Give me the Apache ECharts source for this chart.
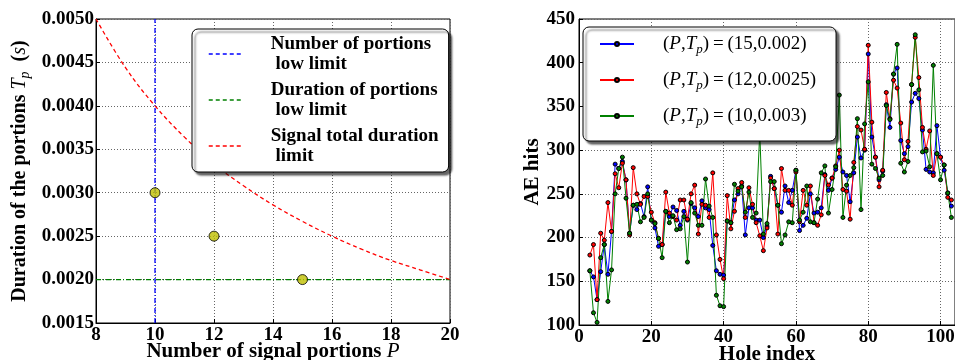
<!DOCTYPE html>
<html><head><meta charset="utf-8">
<script src="https://cdn.jsdelivr.net/npm/echarts@6/dist/echarts.min.js"></script>
<style>html,body{margin:0;padding:0;background:#fff}#c{width:955px;height:360px}</style>
</head><body><div id="c"></div>
<script>
// ---------- Left panel data ----------
const portionsP = [8, 9, 10, 11, 12, 13, 14, 15, 16, 17, 18, 19, 20];
const totalDurationLimit = [0.005, 0.00444, 0.004, 0.00364, 0.00333, 0.00308, 0.00286, 0.00267, 0.0025, 0.00235, 0.00222, 0.00211, 0.002];
const portionsLowLimit = 10;
const durationLowLimit = 0.002;
const leftXRange = [8, 20];
const leftYRange = [0.0015, 0.005];
const chosenP = [10, 12, 15];
const chosenTp = [0.003, 0.0025, 0.002];
const leftLegendNames = ['Number of portions\n low limit', 'Duration of portions\n low limit', 'Signal total duration\n limit'];

// ---------- Right panel data ----------
const holeIndex = [3,4,5,6,7,8,9,10,11,12,13,14,15,16,17,18,19,20,21,22,23,24,25,26,27,28,29,30,31,32,33,34,35,36,37,38,39,40,41,42,43,44,45,46,47,48,49,50,51,52,53,54,55,56,57,58,59,60,61,62,63,64,65,66,67,68,69,70,71,72,73,74,75,76,77,78,79,80,81,82,83,84,85,86,87,88,89,90,91,92,93,94,95,96,97,98,99,100,101,102,103];
const hitsP15 = [162,155,129,161,192,158,207,284,279,287,266,205,237,232,239,224,258,220,211,190,192,230,224,235,231,214,230,220,239,234,224,242,234,232,191,162,158,157,219,217,243,250,259,203,234,234,220,220,200,213,270,256,237,229,259,240,254,277,208,214,222,250,228,229,234,272,254,268,278,292,275,271,241,274,315,291,300,410,315,292,266,276,352,326,387,394,311,296,304,355,365,359,323,278,275,274,328,292,277,251,236];
const hitsP12 = [180,192,129,205,197,240,207,273,257,285,266,203,280,250,238,247,247,229,217,199,192,252,228,224,220,243,243,221,250,260,204,238,237,223,274,203,175,153,248,210,230,256,263,223,257,238,217,202,185,211,268,256,204,279,254,254,237,275,218,254,237,259,217,214,226,271,260,268,282,300,255,253,221,286,327,323,301,420,332,292,258,277,366,336,380,371,331,289,310,375,429,383,326,301,322,271,296,292,283,246,243];
const hitsP10 = [162,114,103,177,192,127,163,250,279,292,245,205,237,238,218,223,250,220,216,199,177,230,217,225,209,210,224,172,240,228,214,214,267,236,223,134,122,121,219,217,261,253,258,229,252,223,228,320,204,216,264,264,237,193,203,218,217,277,220,229,259,218,217,244,274,282,228,255,281,363,223,260,271,280,336,232,330,378,284,279,268,271,351,335,387,421,285,275,287,375,432,369,298,299,281,397,296,266,283,251,223];
const rightLegendNames = ['(P,Tp)=(15,0.002)', '(P,Tp)=(12,0.0025)', '(P,Tp)=(10,0.003)'];
const rightLegendValues = ['(15,0.002)', '(12,0.0025)', '(10,0.003)'];
const rightXRange = [0, 104];
const rightYRange = [100, 450];

const FONT = 'Liberation Serif';
const pair = (xs, ys) => xs.map((x, i) => [x, ys[i]]);

function axisCommon(extra) {
  return Object.assign({
    type: 'value',
    axisLine: { show: true, onZero: false, lineStyle: { color: '#000', width: 1 } },
    axisTick: { show: true, inside: true, length: 4, lineStyle: { color: '#000' } },
    splitLine: { show: true, lineStyle: { color: '#666', type: [1, 2], width: 1 } },
    axisLabel: { color: '#000', fontFamily: FONT, fontWeight: 'bold', fontSize: 19 },
    nameTextStyle: { color: '#000', fontFamily: FONT, fontWeight: 'bold', fontSize: 20 }
  }, extra);
}

const chart = echarts.init(document.getElementById('c'), null, { renderer: 'canvas' });

const option = {
  animation: false,
  backgroundColor: '#fff',
  grid: [
    { left: 96, top: 19, width: 354, height: 304, show: true, borderColor: '#000', borderWidth: 1, backgroundColor: 'transparent', containLabel: false, outerBoundsMode: 'none' },
    { left: 579, top: 19, width: 376, height: 306, show: true, borderColor: '#000', borderWidth: 1, backgroundColor: 'transparent', containLabel: false, outerBoundsMode: 'none' }
  ],
  xAxis: [
    axisCommon({
      gridIndex: 0, min: leftXRange[0], max: leftXRange[1], interval: 2,
      name: '{b|Number of signal portions }{i|P}', nameLocation: 'middle', nameGap: 18, nameMoveOverlap: false,
      nameTextStyle: { rich: {
        b: { fontFamily: FONT, fontWeight: 'bold', fontSize: 21, color: '#000' },
        i: { fontFamily: FONT, fontStyle: 'italic', fontSize: 21, color: '#000' } } },
      axisLabel: { color: '#000', fontFamily: FONT, fontWeight: 'bold', fontSize: 19, margin: 3 }
    }),
    axisCommon({
      gridIndex: 1, min: rightXRange[0], max: rightXRange[1], interval: 20,
      name: 'Hole index', nameLocation: 'middle', nameGap: 19, nameMoveOverlap: false,
      nameTextStyle: { color: '#000', fontFamily: FONT, fontWeight: 'bold', fontSize: 21 },
      axisLabel: { color: '#000', fontFamily: FONT, fontWeight: 'bold', fontSize: 19, margin: 3,
        formatter: v => (v % 20 === 0 ? String(v) : '') }
    })
  ],
  yAxis: [
    axisCommon({
      gridIndex: 0, min: leftYRange[0], max: leftYRange[1], interval: 0.0005,
      name: '{b|Duration of the portions }{i|T}{s|p}{b|  (}{i|s}{b|)}', nameLocation: 'middle', nameGap: 64,
      nameTextStyle: { rich: {
        b: { fontFamily: FONT, fontWeight: 'bold', fontSize: 20, lineHeight: 24, color: '#000' },
        i: { fontFamily: FONT, fontStyle: 'italic', fontSize: 20, lineHeight: 24, color: '#000' },
        s: { fontFamily: FONT, fontStyle: 'italic', fontSize: 14, lineHeight: 14, verticalAlign: 'bottom', color: '#000' } } },
      axisLabel: { color: '#000', fontFamily: FONT, fontWeight: 'bold', fontSize: 19, margin: 2,
        formatter: v => v.toFixed(4) }
    }),
    axisCommon({
      gridIndex: 1, min: rightYRange[0], max: rightYRange[1], interval: 50,
      name: 'AE hits', nameLocation: 'middle', nameGap: 32,
      nameTextStyle: { color: '#000', fontFamily: FONT, fontWeight: 'bold', fontSize: 21 },
      axisLabel: { color: '#000', fontFamily: FONT, fontWeight: 'bold', fontSize: 19, margin: 4 }
    })
  ],
  legend: [
    {
      orient: 'vertical', left: 192, top: 29,
      data: leftLegendNames,
      itemWidth: 32, itemHeight: 14, itemGap: 6,
      padding: [5, 10, 6, 16],
      backgroundColor: '#fff', borderColor: '#000', borderWidth: 1, borderRadius: 6,
      shadowColor: 'rgba(0,0,0,0.6)', shadowBlur: 2, shadowOffsetX: 3, shadowOffsetY: 3,
      lineStyle: { type: [4, 3], width: 1.5 },
      itemStyle: { color: 'transparent', borderWidth: 0, opacity: 0 },
      selectedMode: false,
      textStyle: { color: '#000', fontFamily: FONT, fontWeight: 'bold', fontSize: 19, lineHeight: 20, padding: [0, 0, 0, 25] }
    },
    {
      orient: 'vertical', left: 583, top: 27,
      data: rightLegendNames,
      itemWidth: 34, itemHeight: 5, itemGap: 12,
      padding: [5, 20, 13, 16],
      backgroundColor: '#fff', borderColor: '#000', borderWidth: 1, borderRadius: 6,
      shadowColor: 'rgba(0,0,0,0.6)', shadowBlur: 2, shadowOffsetX: 3, shadowOffsetY: 3,
      selectedMode: false,
      formatter: name => {
        const k = rightLegendNames.indexOf(name);
        return '{n|(}{i|P}{n|,}{i|T}{s|p}{n|)\u2009=\u2009' + rightLegendValues[k] + '}';
      },
      textStyle: { color: '#000', fontFamily: FONT, fontSize: 19, lineHeight: 24, padding: [0, 0, 0, 24],
        rich: {
          n: { fontFamily: FONT, fontSize: 19, lineHeight: 24, color: '#000' },
          i: { fontFamily: FONT, fontStyle: 'italic', fontSize: 19, lineHeight: 24, color: '#000' },
          s: { fontFamily: FONT, fontStyle: 'italic', fontSize: 13, lineHeight: 13, verticalAlign: 'bottom', color: '#000' }
        } }
    }
  ],
  series: [
    {
      name: leftLegendNames[0], type: 'line', xAxisIndex: 0, yAxisIndex: 0,
      data: [[portionsLowLimit, leftYRange[0]], [portionsLowLimit, leftYRange[1]]],
      symbol: 'none', lineStyle: { color: '#0000ff', width: 1.3, type: [5, 2, 1, 2] }, itemStyle: { color: '#0000ff' }, z: 2
    },
    {
      name: leftLegendNames[1], type: 'line', xAxisIndex: 0, yAxisIndex: 0,
      data: [[leftXRange[0], durationLowLimit], [leftXRange[1], durationLowLimit]],
      symbol: 'none', lineStyle: { color: '#008000', width: 1.3, type: [5, 2, 1, 2] }, itemStyle: { color: '#008000' }, z: 2
    },
    {
      name: leftLegendNames[2], type: 'line', xAxisIndex: 0, yAxisIndex: 0,
      data: pair(portionsP, totalDurationLimit), smooth: 0.4,
      symbol: 'none', lineStyle: { color: '#ff0000', width: 1.3, type: [4, 3] }, itemStyle: { color: '#ff0000' }, z: 2
    },
    {
      name: 'chosen', type: 'scatter', xAxisIndex: 0, yAxisIndex: 0,
      data: pair(chosenP, chosenTp), symbol: 'circle', symbolSize: 10,
      itemStyle: { color: '#bfbf00', borderColor: '#000', borderWidth: 1 }, z: 3
    },
    {
      name: rightLegendNames[0], type: 'line', xAxisIndex: 1, yAxisIndex: 1,
      data: pair(holeIndex, hitsP15), symbol: 'circle', symbolSize: 4, showAllSymbol: true,
      lineStyle: { color: '#0000ff', width: 1 }, itemStyle: { color: '#0000ff', borderColor: '#000', borderWidth: 1 }
    },
    {
      name: rightLegendNames[1], type: 'line', xAxisIndex: 1, yAxisIndex: 1,
      data: pair(holeIndex, hitsP12), symbol: 'circle', symbolSize: 4, showAllSymbol: true,
      lineStyle: { color: '#ff0000', width: 1 }, itemStyle: { color: '#ff0000', borderColor: '#000', borderWidth: 1 }
    },
    {
      name: rightLegendNames[2], type: 'line', xAxisIndex: 1, yAxisIndex: 1,
      data: pair(holeIndex, hitsP10), symbol: 'circle', symbolSize: 4, showAllSymbol: true,
      lineStyle: { color: '#008000', width: 1 }, itemStyle: { color: '#008000', borderColor: '#000', borderWidth: 1 }
    }
  ]
};
chart.setOption(option);
</script></body></html>
